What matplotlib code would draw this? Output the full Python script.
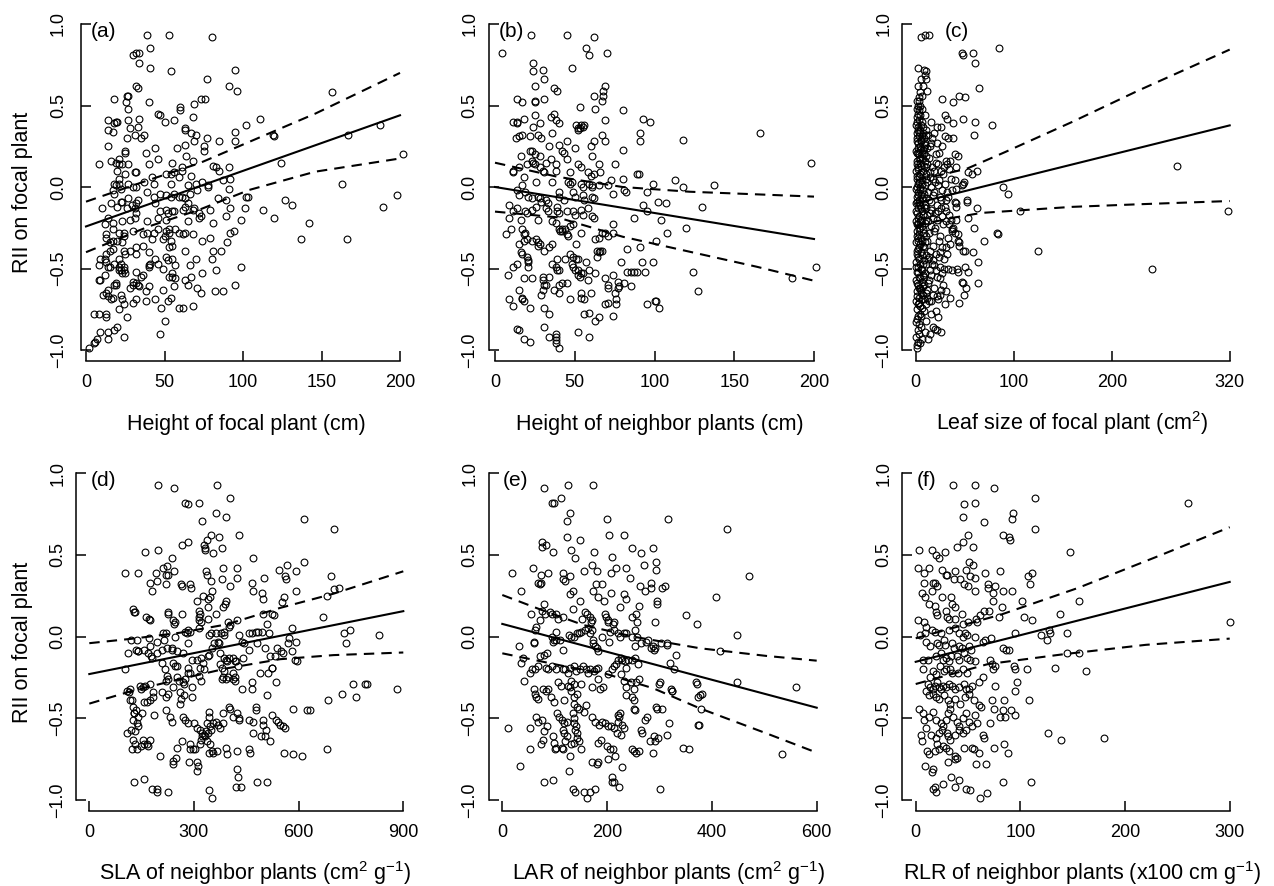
import matplotlib
matplotlib.use("Agg")
import matplotlib.pyplot as plt
from matplotlib.ticker import FuncFormatter

plt.rcParams['font.family'] = ['Liberation Sans', 'DejaVu Sans']
plt.rcParams['mathtext.fontset'] = 'custom'
plt.rcParams['mathtext.rm'] = 'Liberation Sans'
plt.rcParams['mathtext.it'] = 'Liberation Sans:italic'
plt.rcParams['mathtext.default'] = 'regular'

# ---------------- data ----------------
y_ticks = [-1.0, -0.5, 0.0, 0.5, 1.0]
y_label = "RII on focal plant"

a_ticks = [0, 50, 100, 150, 200]
b_ticks = [0, 50, 100, 150, 200]
c_ticks = [0, 100, 200, 320]
d_ticks = [0, 300, 600, 900]
e_ticks = [0, 200, 400, 600]
f_ticks = [0, 100, 200, 300]

a_xlabel = "Height of focal plant (cm)"
b_xlabel = "Height of neighbor plants (cm)"
c_xlabel = "Leaf size of focal plant (cm$^{2}$)"
d_xlabel = "SLA of neighbor plants (cm$^{2}$ g$^{-1}$)"
e_xlabel = "LAR of neighbor plants (cm$^{2}$ g$^{-1}$)"
f_xlabel = "RLR of neighbor plants (x100 cm g$^{-1}$)"

panel_tags = ["(a)", "(b)", "(c)", "(d)", "(e)", "(f)"]

# (x, RII) observations
a_pts = [(39,0.93),(53,0.93),(80,0.92),(41,0.85),(30,0.81),(32,0.82),(34,0.82),(34,0.76),(41,0.73),(54,0.71),(95,0.72),(77,0.66),(91,0.62),(96,0.59),(32,0.62),(33,0.61),(157,0.58),(18,0.54),(26,0.56),(27,0.56),(40,0.52),(25.5,0.52),(73,0.54),(76,0.54),(69,0.51),(60,0.49),(60,0.47),(27,0.48),(46,0.45),(47,0.44),(50,0.40),(56,0.41),(68,0.43),(14,0.41),(18,0.39),(19,0.40),(20,0.40),(111,0.42),(102,0.38),(187,0.38),(34,0.42),(27,0.41),(28,0.36),(14,0.35),(17,0.34),(33,0.37),(63,0.36),(63,0.35),(95,0.34),(37,0.32),(31,0.32),(67,0.33),(70,0.32),(120,0.31),(119,0.32),(167,0.32),(77,0.30),(26,0.30),(35,0.30),(69,0.28),(95,0.28),(85,0.28),(63,0.26),(75,0.25),(75,0.22),(14,0.25),(44,0.24),(58,0.24),(25,0.22),(25,0.21),(38,0.21),(64,0.19),(46,0.17),(16,0.16),(19,0.15),(21,0.17),(21,0.14),(68,0.16),(8,0.14),(23,0.14),(27,0.14),(40,0.14),(55,0.15),(202,0.20),(124,0.15),(81,0.13),(83,0.12),(85,0.10),(91,0.12),(31,0.09),(32,0.09),(25,0.08),(61,0.12),(61,0.10),(51,0.08),(54,0.08),(56,0.09),(20,0.10),(67,0.07),(59,0.06),(21,0.05),(21,0.02),(18,0.02),(19,0.01),(27,0.02),(43,0.02),(37,0.03),(54,0.02),(70,0.02),(74,0.03),(78,0.0),(92,0.05),(91,-0.01),(87,0.04),(10,-0.13),(17,-0.02),(18,-0.04),(22,-0.01),(22,-0.09),(30,0.0),(32,0.0),(39,-0.03),(47,-0.04),(51,-0.05),(56,-0.04),(59,-0.06),(61,-0.06),(63,-0.07),(66,-0.04),(84,-0.07),(89,-0.08),(102,-0.06),(103,-0.06),(127,-0.08),(131,-0.11),(198,-0.05),(189,-0.12),(163,0.02),(27,-0.07),(29,-0.11),(32,-0.10),(23,-0.09),(26,-0.13),(16,-0.10),(31,-0.13),(32,-0.16),(47,-0.15),(51,-0.14),(52,-0.16),(55,-0.15),(56,-0.15),(62,-0.14),(68,-0.14),(72,-0.19),(73,-0.18),(79,-0.14),(92,-0.13),(101,-0.13),(113,-0.14),(120,-0.19),(142,-0.22),(137,-0.32),(166,-0.32),(81,-0.22),(89,-0.18),(99,-0.20),(94,-0.27),(92,-0.28),(90,-0.34),(86,-0.39),(81,-0.39),(80,-0.44),(79,-0.31),(74,-0.33),(70,-0.44),(68,-0.29),(63,-0.28),(62,-0.29),(57,-0.26),(59,-0.28),(53,-0.26),(53,-0.28),(54,-0.33),(53,-0.37),(55,-0.36),(51,-0.27),(50,-0.30),(49,-0.32),(46,-0.26),(43,-0.28),(42,-0.32),(39,-0.28),(36,-0.29),(30,-0.27),(28,-0.20),(24,-0.28),(24,-0.30),(23,-0.34),(21,-0.28),(20,-0.33),(17,-0.33),(17,-0.22),(13,-0.29),(13,-0.31),(15,-0.34),(12,-0.23),(17,-0.26),(31,-0.19),(39,-0.21),(51,-0.20),(65,-0.21),(14,-0.19),(23,-0.21),(36,-0.36),(32,-0.41),(40,-0.40),(44,-0.44),(41,-0.47),(40,-0.48),(40,-0.49),(46,-0.47),(49,-0.50),(51,-0.43),(52,-0.45),(55,-0.44),(57,-0.48),(55,-0.53),(53,-0.55),(55,-0.55),(57,-0.56),(63,-0.39),(66,-0.48),(67,-0.55),(63,-0.57),(65,-0.60),(74,-0.53),(83,-0.51),(99,-0.49),(95,-0.60),(82,-0.64),(87,-0.64),(71,-0.62),(73,-0.65),(68,-0.73),(62,-0.74),(59,-0.74),(56,-0.61),(49,-0.63),(54,-0.68),(52,-0.70),(48,-0.74),(50,-0.82),(47,-0.90),(44,-0.69),(38,-0.64),(38,-0.70),(40,-0.61),(33,-0.60),(34,-0.61),(36,-0.54),(35,-0.55),(30,-0.58),(30,-0.60),(32,-0.59),(32,-0.52),(28,-0.62),(32,-0.69),(30,-0.71),(26,-0.80),(24,-0.92),(23,-0.69),(24,-0.72),(22,-0.66),(19,-0.59),(19,-0.60),(18,-0.60),(21,-0.75),(21,-0.44),(22,-0.47),(21,-0.49),(24,-0.49),(25,-0.53),(23,-0.53),(22,-0.51),(21,-0.51),(24,-0.51),(18,-0.47),(14,-0.49),(15,-0.49),(13,-0.46),(12,-0.44),(9,-0.44),(8,-0.48),(8,-0.57),(9,-0.57),(12,-0.54),(13,-0.65),(14,-0.67),(16,-0.69),(17,-0.68),(11,-0.66),(14,-0.63),(13,-0.78),(13,-0.80),(5,-0.78),(8,-0.78),(20,-0.86),(18,-0.88),(14,-0.89),(14,-0.93),(9,-0.89),(7,-0.93),(6,-0.95),(5,-0.96),(2,-0.99),(17,-0.38),(15,-0.39),(13,-0.41),(25,-0.41),(24,-0.39),(28,-0.39),(32,-0.37),(46,-0.19),(44,-0.10),(33,-0.08),(20,-0.12),(63,-0.12),(65,-0.10),(69,-0.13),(72,-0.16),(65,0.01),(71,-0.02),(78,0.01),(42,0.06),(54,-0.06),(43,-0.06)]

b_pts = [(4.6,0.82),(22.6,0.93),(45,0.93),(62,0.92),(57,0.85),(59,0.81),(70,0.82),(48,0.73),(24,0.76),(24,0.71),(30,0.72),(31,0.66),(25,0.62),(37,0.61),(39,0.59),(69,0.62),(68,0.59),(68,0.56),(67,0.53),(62,0.56),(14,0.54),(17,0.52),(25,0.53),(25,0.52),(31,0.54),(53,0.49),(63,0.48),(80,0.47),(25,0.44),(37,0.45),(35,0.43),(18,0.42),(11,0.40),(14,0.40),(14,0.39),(28,0.39),(38,0.41),(40,0.39),(69,0.41),(93,0.42),(97,0.40),(51,0.38),(52,0.36),(53,0.36),(54,0.38),(55,0.37),(56,0.38),(52,0.35),(24,0.37),(36,0.33),(91,0.33),(91,0.28),(67,0.32),(166,0.33),(118,0.29),(13,0.30),(15,0.31),(17,0.32),(22,0.31),(27,0.32),(29,0.30),(69,0.28),(62,0.28),(60,0.25),(40,0.26),(45,0.28),(34,0.25),(50,0.24),(80,0.23),(22,0.22),(23,0.22),(42,0.22),(43,0.21),(16,0.19),(25,0.20),(28,0.19),(35,0.17),(38,0.14),(45,0.17),(61,0.19),(20,0.14),(23,0.16),(24,0.15),(25,0.14),(52,0.14),(54,0.12),(65,0.14),(75,0.14),(198,0.15),(11,0.10),(11,0.09),(15,0.12),(28,0.12),(30,0.10),(31,0.09),(32,0.15),(38,0.10),(47,0.09),(58,0.09),(60,0.07),(62,0.08),(66,0.09),(89,0.08),(90,0.08),(113,0.04),(73,0.04),(80,0.05),(18,0.06),(26,0.03),(36,0.03),(46,0.03),(47,0.02),(48,0.03),(54,0.02),(55,0.0),(59,0.02),(61,0.01),(61,0.0),(65,0.01),(71,0.01),(74,-0.04),(81,-0.02),(82,-0.03),(99,0.02),(118,0.0),(137,0.01),(95,-0.03),(14,-0.02),(15,-0.05),(17,0.01),(19,-0.03),(21,-0.06),(23,-0.07),(27,-0.06),(28,-0.07),(29,-0.09),(32,-0.08),(33,-0.10),(40,-0.03),(40,-0.06),(43,-0.08),(49,-0.03),(50,-0.06),(55,-0.05),(56,-0.08),(61,-0.06),(62,-0.07),(102,-0.09),(107,-0.10),(93,-0.11),(95,-0.15),(130,-0.12),(9,-0.11),(11,-0.15),(14,-0.13),(19,-0.15),(20,-0.16),(23,-0.14),(26,-0.12),(32,-0.13),(33,-0.15),(39,-0.12),(39,-0.15),(40,-0.16),(45,-0.15),(49,-0.15),(50,-0.17),(54,-0.14),(55,-0.17),(58,-0.13),(61,-0.18),(62,-0.19),(87,-0.19),(104,-0.20),(120,-0.25),(9,-0.19),(16,-0.20),(17,-0.26),(18,-0.29),(19,-0.28),(27,-0.20),(7,-0.29),(10,-0.26),(36,-0.21),(38,-0.22),(40,-0.26),(41,-0.27),(42,-0.27),(42,-0.26),(44,-0.26),(47,-0.24),(49,-0.23),(46,-0.30),(45,-0.29),(54,-0.28),(51,-0.35),(63,-0.32),(65,-0.31),(67,-0.28),(69,-0.28),(71,-0.30),(74,-0.28),(74,-0.23),(101,-0.33),(108,-0.28),(83,-0.38),(91,-0.37),(64,-0.39),(65,-0.40),(64,-0.43),(66,-0.39),(67,-0.39),(18,-0.33),(20,-0.32),(23,-0.33),(26,-0.32),(27,-0.34),(28,-0.35),(27,-0.36),(31,-0.39),(34,-0.37),(36,-0.35),(15,-0.35),(16,-0.40),(17,-0.41),(20,-0.43),(21,-0.45),(21,-0.46),(21,-0.49),(14,-0.47),(11,-0.49),(8,-0.54),(18,-0.56),(23,-0.56),(15,-0.63),(17,-0.68),(17,-0.69),(18,-0.70),(9,-0.69),(11,-0.73),(22,-0.74),(14,-0.87),(15,-0.88),(18,-0.93),(22,-0.95),(30,-0.55),(30,-0.57),(34,-0.55),(30,-0.63),(31,-0.60),(29,-0.66),(32,-0.60),(37,-0.63),(40,-0.65),(40,-0.60),(42,-0.59),(36,-0.47),(38,-0.49),(39,-0.51),(40,-0.51),(39,-0.44),(44,-0.44),(47,-0.41),(49,-0.43),(48,-0.47),(49,-0.49),(50,-0.51),(51,-0.44),(52,-0.44),(52,-0.51),(54,-0.53),(52,-0.54),(53,-0.55),(55,-0.53),(57,-0.46),(59,-0.51),(63,-0.53),(58,-0.57),(45,-0.59),(47,-0.69),(54,-0.65),(54,-0.68),(56,-0.69),(60,-0.65),(69,-0.56),(71,-0.60),(71,-0.62),(74,-0.54),(77,-0.58),(78,-0.61),(77,-0.62),(75,-0.65),(76,-0.69),(76,-0.72),(79,-0.46),(83,-0.52),(85,-0.52),(87,-0.52),(89,-0.52),(81,-0.59),(85,-0.61),(92,-0.46),(94,-0.52),(99,-0.46),(95,-0.72),(100,-0.70),(101,-0.70),(103,-0.74),(124,-0.52),(127,-0.64),(201,-0.49),(186,-0.56),(69,-0.72),(71,-0.71),(74,-0.79),(56,-0.78),(59,-0.77),(63,-0.82),(65,-0.80),(31,-0.74),(34,-0.78),(31,-0.86),(34,-0.92),(38,-0.90),(38,-0.92),(38,-0.94),(38,-0.96),(40,-0.99),(52,-0.89),(59,-0.92)]

c_pts = [(5,0.92),(9,0.93),(14,0.93),(47,0.82),(48,0.81),(58,0.82),(60,0.76),(85,0.85),(2,0.73),(8,0.72),(10,0.71),(11,0.66),(64,0.61),(2,0.62),(7,0.62),(12,0.59),(4,0.58),(27,0.54),(44,0.56),(50,0.55),(38,0.52),(1,0.53),(3,0.53),(4,0.50),(1,0.48),(3,0.47),(48,0.42),(60,0.40),(78,0.38),(59,0.32),(30,0.44),(32,0.42),(26,0.37),(38,0.39),(16,0.40),(22,0.37),(1,0.43),(3,0.41),(6,0.40),(2,0.37),(4,0.35),(7,0.33),(10,0.32),(13,0.32),(1,0.33),(6,0.31),(30,0.31),(38,0.30),(17,0.30),(22,0.27),(15,0.25),(24,0.21),(1,0.28),(4,0.25),(9,0.26),(7,0.23),(2,0.21),(4,0.18),(11,0.19),(40,0.20),(43,0.19),(31,0.16),(32,0.14),(41,0.12),(12,0.14),(17,0.12),(21,0.15),(23,0.14),(15,0.09),(19,0.10),(53,0.09),(57,0.08),(62,0.10),(34,0.11),(36,0.05),(40,0.04),(48,0.02),(49,0.03),(47,0.01),(20,0.03),(23,0.01),(30,0.02),(27,-0.02),(32,-0.03),(37,-0.02),(41,-0.01),(25,-0.06),(31,-0.08),(40,-0.09),(41,-0.10),(89,0.0),(94,-0.04),(52,-0.08),(52,-0.09),(62,-0.13),(106,-0.15),(41,-0.12),(41,-0.20),(53,-0.19),(16,-0.09),(22,-0.11),(26,-0.13),(16,-0.14),(20,-0.16),(27,-0.18),(22,-0.20),(34,-0.17),(31,-0.21),(34,-0.23),(38,-0.25),(37,-0.26),(59,-0.25),(37,-0.27),(40,-0.28),(43,-0.29),(44,-0.34),(44,-0.36),(43,-0.33),(48,-0.39),(50,-0.39),(58,-0.40),(70,-0.33),(83,-0.28),(84,-0.29),(125,-0.39),(31,-0.37),(32,-0.41),(35,-0.35),(33,-0.50),(37,-0.51),(42,-0.50),(43,-0.52),(50,-0.49),(53,-0.52),(63,-0.46),(63,-0.59),(47,-0.58),(48,-0.59),(51,-0.62),(49,-0.66),(44,-0.71),(35,-0.68),(30,-0.72),(25,-0.66),(26,-0.63),(19,-0.62),(22,-0.67),(23,-0.69),(241,-0.50),(266,0.13),(318,-0.145),(19,-0.48),(21,-0.51),(25,-0.49),(27,-0.53),(29,-0.50),(22,-0.55),(25,-0.56),(14,-0.43),(18,-0.45),(11,-0.47),(15,-0.51),(8,-0.55),(13,-0.59),(7,-0.61),(5,-0.63),(10,-0.65),(12,-0.68),(14,-0.70),(16,-0.70),(11,-0.72),(8,-0.76),(5,-0.79),(10,-0.82),(18,-0.86),(20,-0.87),(22,-0.88),(26,-0.89),(15,-0.90),(9,-0.89),(6,-0.93),(13,-0.93),(2,-0.95),(4,-0.96),(1,-0.99),
         (0.5,-0.92),(2,-0.88),(3,-0.84),(1,-0.81),(4,-0.78),(6,-0.74),(2,-0.72),(0.5,-0.70),(3,-0.68),(7,-0.66),(1,-0.64),(4,-0.62),(2,-0.60),(6,-0.58),(0.5,-0.57),(3,-0.55),(9,-0.53),(1,-0.52),(5,-0.50),(2,-0.49),(7,-0.47),(0.5,-0.46),(3,-0.44),(10,-0.42),(1,-0.41),(5,-0.40),(2,-0.38),(8,-0.37),(4,-0.35),(0.5,-0.34),(6,-0.33),(2,-0.31),(11,-0.30),(3,-0.29),(1,-0.27),(7,-0.26),(4,-0.25),(2,-0.23),(9,-0.22),(0.5,-0.21),(5,-0.20),(3,-0.18),(12,-0.17),(1,-0.16),(6,-0.15),(2,-0.13),(8,-0.12),(4,-0.11),(0.5,-0.10),(3,-0.08),(10,-0.07),(1,-0.06),(5,-0.05),(2,-0.03),(7,-0.02),(0.5,-0.01),(4,0.0),(9,0.01),(2,0.02),(6,0.04),(1,0.05),(3,0.07),(11,0.08),(5,0.09),(0.5,0.10),(2,0.12),(8,0.13),(4,0.15),(1,0.16),(6,0.18),(3,0.20),(0.5,0.22),(2,0.24),(9,0.27),(5,0.29),(1,0.30),(3,0.34),(0.5,0.38),(2,0.45),(1,-0.75),(3,-0.71),(8,-0.69),(12,-0.63),(14,-0.57),(16,-0.54),(17,-0.47),(13,-0.44),(15,-0.39),(18,-0.36),(12,-0.33),(14,-0.28),(19,-0.27),(16,-0.24),(13,-0.21),(18,-0.19),(15,-0.16),(11,-0.13),(14,-0.08),(18,-0.05),(13,-0.03),(16,0.0),(12,0.03),(15,0.06),(18,0.05),(10,0.12),(14,0.18),(8,0.21),(12,0.24),(16,0.27),(11,0.35),(7,0.37),(9,0.44),(6,0.48),(24,-0.33),(27,-0.37),(21,-0.41),(24,-0.43),(28,-0.23),(25,-0.30),(30,-0.12),(33,-0.06),(28,0.08),(26,0.10),(35,0.16),
         (1,-0.97),(3,-0.90),(5,-0.86),(0.5,-0.83),(2,-0.79),(4,-0.73),(6,-0.69),(1,-0.67),(5,-0.65),(3,-0.62),(8,-0.60),(1,-0.59),(4,-0.56),(7,-0.54),(2,-0.52),(6,-0.51),(0.5,-0.49),(4,-0.47),(8,-0.45),(2,-0.43),(6,-0.42),(1,-0.39),(3,-0.37),(7,-0.36),(9,-0.34),(2,-0.33),(5,-0.31),(1,-0.30),(8,-0.28),(3,-0.26),(6,-0.24),(1,-0.23),(4,-0.21),(10,-0.20),(2,-0.19),(7,-0.17),(0.5,-0.15),(5,-0.13),(9,-0.11),(3,-0.10),(1,-0.09),(6,-0.07),(2,-0.05),(8,-0.04),(4,-0.02),(1,0.0),(6,0.02),(3,0.03),(10,0.05),(1,0.07),(4,0.08),(7,0.10),(2,0.11),(5,0.13),(1,0.14),(9,0.16),(3,0.17),(6,0.20),(1,0.21),(4,0.23),(8,0.24),(2,0.27),(5,0.28),(3,0.31),(8,0.30),(2,0.35),(5,0.38),(1,0.40),(4,0.44),(2,0.50),(3,0.55),(6,0.56),(5,0.66),(9,0.69),
         (20,-0.25),(23,-0.15),(26,-0.08),(19,-0.03),(24,0.04),(29,0.12),(21,0.20),(27,0.25),(33,0.30),(19,0.33),(25,-0.40),(29,-0.44),(33,-0.31),(36,-0.20),(31,-0.15),(28,-0.60),(31,-0.64),(18,-0.66),(21,-0.76),(23,-0.80),(16,-0.78)]

d_pts = [(198,0.93),(244,0.91),(365,0.93),(403,0.85),(274,0.82),(282,0.81),(315,0.82),(363,0.76),(392,0.73),(323,0.71),(615,0.72),(702,0.66),(430,0.62),(349,0.62),(373,0.61),(336,0.59),(284,0.58),(266,0.56),(329,0.56),(331,0.54),(332,0.53),(354,0.51),(381,0.54),(161,0.52),(196,0.53),(470,0.48),(237,0.48),(615,0.46),(224,0.43),(212,0.42),(102,0.39),(139,0.39),(191,0.39),(244,0.40),(220,0.38),(226,0.38),(334,0.40),(336,0.38),(383,0.42),(423,0.42),(543,0.41),(566,0.44),(592,0.40),(692,0.37),(562,0.37),(502,0.36),(424,0.36),(380,0.35),(173,0.33),(195,0.34),(219,0.32),(180,0.28),(263,0.32),(266,0.31),(289,0.32),(292,0.30),(348,0.34),(403,0.31),(466,0.33),(717,0.30),(700,0.29),(564,0.35),(592,0.28),(468,0.28),(496,0.27),(327,0.25),(352,0.28),(347,0.24),(339,0.23),(559,0.24),(552,0.21),(682,0.25),(499,0.23),(384,0.18),(388,0.20),(392,0.22),(310,0.22),(341,0.18),(671,0.12),(124,0.17),(129,0.15),(132,0.15),(162,0.12),(171,0.11),(174,0.10),(225,0.15),(227,0.14),(265,0.14),(315,0.16),(317,0.14),(315,0.12),(314,0.10),(319,0.09),(364,0.14),(340,0.11),(497,0.14),(508,0.08),(524,0.14),(529,0.13),(424,0.10),(397,0.09),(402,0.07),(241,0.10),(246,0.09),(243,0.08),(284,0.04),(288,0.03),(212,0.02),(219,0.02),(245,0.0),(275,0.03),(279,0.02),(282,-0.04),(314,0.05),(342,0.01),(349,0.02),(362,0.02),(378,0.02),(386,0.03),(387,0.01),(399,0.06),(430,0.01),(457,0.02),(467,0.02),(477,0.03),(484,0.03),(495,0.03),(516,0.02),(582,0.05),(571,-0.01),(592,-0.03),(729,0.02),(747,0.04),(737,-0.04),(831,0.01),(119,-0.02),(138,-0.02),(140,-0.09),(134,-0.08),(174,-0.06),(170,-0.01),(177,-0.12),(102,-0.20),(117,-0.32),(115,-0.34),(121,-0.39),(144,-0.30),(148,-0.32),(153,-0.31),(160,-0.30),(173,-0.29),(180,-0.13),(167,-0.10),(193,-0.10),(193,-0.03),(209,-0.08),(214,-0.02),(222,-0.07),(236,-0.07),(238,-0.08),(250,-0.09),(268,-0.10),(246,-0.18),(250,-0.18),(241,-0.16),(209,-0.16),(217,-0.20),(222,-0.24),(225,-0.26),(220,-0.27),(251,-0.25),(258,-0.27),(268,-0.28),(271,-0.29),(273,-0.26),(282,-0.19),(284,-0.22),(288,-0.22),(295,-0.14),(310,-0.14),(320,-0.13),(327,-0.16),(339,-0.12),(344,-0.11),(352,-0.07),(357,-0.04),(370,-0.03),(372,-0.04),(376,-0.10),(386,-0.13),(391,-0.14),(394,-0.15),(399,-0.13),(413,-0.13),(418,-0.15),(425,-0.18),(421,-0.15),(441,-0.13),(375,-0.17),(381,-0.19),(386,-0.21),(413,-0.22),(419,-0.25),(329,-0.20),(317,-0.19),(315,-0.24),(320,-0.27),(295,-0.31),(295,-0.37),(260,-0.34),(271,-0.36),(264,-0.38),(260,-0.41),(241,-0.31),(225,-0.35),(220,-0.37),(209,-0.34),(183,-0.34),(182,-0.37),(174,-0.39),(164,-0.40),(157,-0.40),(133,-0.45),(128,-0.47),(139,-0.49),(150,-0.47),(185,-0.48),(219,-0.45),(231,-0.49),(236,-0.52),(268,-0.49),(275,-0.51),(282,-0.53),(301,-0.53),(308,-0.56),(317,-0.57),(324,-0.59),(329,-0.60),(334,-0.58),(341,-0.59),(348,-0.57),(346,-0.55),(336,-0.53),(355,-0.53),(362,-0.52),(370,-0.54),(376,-0.56),(382,-0.53),(344,-0.46),(344,-0.49),(382,-0.47),(399,-0.43),(403,-0.44),(413,-0.49),(422,-0.47),(430,-0.50),(430,-0.51),(459,-0.51),(470,-0.52),(477,-0.43),(478,-0.45),(497,-0.51),(499,-0.54),(506,-0.57),(523,-0.48),(535,-0.51),(542,-0.52),(548,-0.54),(556,-0.55),(561,-0.56),(508,-0.36),(489,-0.22),(513,-0.22),(525,-0.19),(534,-0.28),(465,-0.28),(467,-0.32),(437,-0.32),(381,-0.26),(393,-0.26),(383,-0.25),(397,-0.25),(413,-0.26),(419,-0.27),(585,-0.44),(623,-0.45),(634,-0.45),(684,-0.39),(723,-0.35),(755,-0.29),(765,-0.37),(790,-0.29),(795,-0.29),(881,-0.32),(570,-0.04),(582,-0.09),(589,-0.14),(594,-0.15),(539,-0.07),(549,-0.09),(554,-0.10),(533,-0.12),(524,-0.19),(505,-0.07),(518,-0.12),(459,-0.08),(482,-0.04),(438,-0.03),(443,-0.04),
         (111,-0.10),(107,-0.33),(118,-0.39),(126,-0.43),(128,-0.47),(124,-0.51),(119,-0.57),(107,-0.59),(124,-0.63),(131,-0.66),(121,-0.69),(138,-0.69),(147,-0.67),(157,-0.66),(153,-0.63),(140,-0.55),(138,-0.53),(132,-0.58),(164,-0.66),(168,-0.67),(174,-0.63),(204,-0.73),(241,-0.76),(239,-0.78),(248,-0.74),(252,-0.68),(265,-0.64),(289,-0.69),(290,-0.66),(287,-0.77),(310,-0.77),(312,-0.79),(308,-0.82),(298,-0.69),(303,-0.69),(317,-0.66),(319,-0.63),(322,-0.61),(333,-0.61),(338,-0.64),(346,-0.66),(353,-0.70),(354,-0.71),(342,-0.71),(367,-0.70),(392,-0.68),(394,-0.72),(422,-0.70),(424,-0.81),(425,-0.86),(434,-0.92),(420,-0.92),(459,-0.69),(460,-0.71),(468,-0.59),(493,-0.61),(503,-0.61),(518,-0.64),(558,-0.71),(585,-0.72),(610,-0.73),(680,-0.69),(128,-0.89),(157,-0.87),(179,-0.93),(195,-0.93),(195,-0.95),(226,-0.95),(342,-0.94),(352,-0.99),(482,-0.89),(508,-0.89),(139,-0.09),(157,-0.08)]

e_pts = [(80,0.91),(125,0.93),(174,0.93),(112,0.85),(94,0.82),(99,0.82),(130,0.76),(123,0.71),(199,0.72),(316,0.72),(429,0.66),(123,0.61),(204,0.62),(232,0.62),(149,0.59),(76,0.58),(76,0.55),(83,0.56),(96,0.52),(131,0.53),(175,0.52),(248,0.54),(264,0.51),(287,0.54),(139,0.48),(209,0.49),(293,0.46),(270,0.44),(172,0.44),(59,0.42),(217,0.42),(237,0.42),(294,0.41),(18,0.39),(87,0.39),(116,0.39),(155,0.40),(180,0.40),(207,0.39),(470,0.37),(73,0.38),(74,0.33),(69,0.33),(72,0.32),(130,0.37),(120,0.34),(115,0.35),(244,0.36),(284,0.33),(283,0.30),(311,0.31),(304,0.30),(36,0.28),(134,0.28),(130,0.26),(174,0.28),(183,0.24),(194,0.22),(178,0.32),(190,0.32),(233,0.26),(237,0.23),(208,0.27),(263,0.31),(272,0.28),(296,0.22),(296,0.20),(407,0.24),(148,0.22),(79,0.20),(134,0.17),(225,0.18),(261,0.19),(55,0.14),(75,0.16),(81,0.14),(91,0.15),(94,0.14),(102,0.14),(106,0.11),(115,0.12),(158,0.15),(162,0.14),(167,0.12),(169,0.09),(153,0.11),(172,0.10),(196,0.14),(198,0.12),(202,0.10),(201,0.09),(211,0.08),(214,0.09),(247,0.12),(256,0.14),(258,0.09),(291,0.09),(351,0.13),(372,0.08),(447,0.01),(72,0.10),(62,0.04),(65,0.06),(60,-0.03),(61,-0.04),(94,0.0),(99,-0.02),(102,0.03),(97,-0.03),(102,-0.02),(110,-0.02),(116,-0.08),(127,0.01),(131,0.0),(136,0.0),(143,0.02),(147,0.02),(151,0.03),(157,0.04),(164,0.05),(167,0.02),(171,0.04),(174,-0.02),(173,-0.04),(177,-0.06),(181,-0.07),(183,-0.09),(190,0.0),(204,-0.03),(206,0.03),(214,0.04),(221,0.02),(225,0.0),(232,0.02),(236,0.02),(247,0.0),(253,0.04),(257,0.0),(253,-0.06),(265,-0.04),(274,-0.03),(279,-0.02),(283,-0.07),(288,-0.06),(291,-0.07),(290,-0.08),(302,-0.04),(314,-0.04),(315,-0.05),(320,-0.16),(331,-0.11),(328,-0.20),(415,-0.09),(31,-0.06),(39,-0.13),(35,-0.16),(42,-0.27),(53,-0.22),(56,-0.20),(62,-0.20),(69,-0.18),(72,-0.12),(80,-0.11),(85,-0.10),(84,-0.19),(88,-0.20),(94,-0.18),(102,-0.20),(115,-0.20),(120,-0.20),(126,-0.22),(129,-0.19),(137,-0.18),(140,-0.21),(148,-0.20),(154,-0.18),(159,-0.20),(163,-0.22),(167,-0.20),(175,-0.21),(178,-0.20),(183,-0.19),(132,-0.27),(136,-0.29),(151,-0.29),(171,-0.31),(183,-0.26),(186,-0.32),(193,-0.31),(201,-0.23),(209,-0.20),(214,-0.18),(217,-0.17),(221,-0.14),(226,-0.13),(229,-0.14),(234,-0.15),(237,-0.19),(240,-0.14),(248,-0.14),(254,-0.13),(259,-0.17),(226,-0.23),(233,-0.27),(237,-0.31),(246,-0.28),(251,-0.32),(255,-0.28),(260,-0.26),(237,-0.36),(247,-0.37),(252,-0.39),(251,-0.44),(253,-0.45),(300,-0.28),(322,-0.32),(323,-0.33),(369,-0.28),(371,-0.29),(374,-0.37),(378,-0.36),(382,-0.35),(380,-0.44),(374,-0.54),(447,-0.28),(560,-0.31),(60,-0.32),(64,-0.37),(69,-0.38),(62,-0.35),(78,-0.32),(83,-0.33),(87,-0.32),(93,-0.37),(99,-0.40),(112,-0.30),(106,-0.28),(126,-0.30),(130,-0.31),(132,-0.33),(143,-0.35),(117,-0.39),(136,-0.37),(136,-0.41),(143,-0.43),(147,-0.44),(155,-0.46),(160,-0.42),(65,-0.49),(68,-0.52),(76,-0.51),(80,-0.58),(85,-0.55),(11,-0.56),(53,-0.56),(34,-0.79),(53,-0.69),(74,-0.66),(78,-0.63),(97,-0.61),(98,-0.65),(101,-0.69),(103,-0.68),(105,-0.47),(108,-0.49),(113,-0.51),(118,-0.53),(123,-0.52),(116,-0.57),(117,-0.59),(120,-0.64),(114,-0.68),(116,-0.69),(135,-0.47),(137,-0.50),(137,-0.53),(140,-0.55),(139,-0.57),(143,-0.59),(124,-0.61),(132,-0.66),(137,-0.65),(143,-0.62),(146,-0.64),(151,-0.69),(130,-0.73),(171,-0.77),(183,-0.65),(183,-0.77),(181,-0.78),(128,-0.82),(79,-0.89),(97,-0.88),(134,-0.93),(138,-0.95),(155,-0.95),(161,-0.99),(167,-0.95),(177,-0.93),(171,-0.49),(177,-0.52),(185,-0.54),(191,-0.52),(196,-0.53),(202,-0.55),(208,-0.55),(214,-0.56),(218,-0.59),(226,-0.60),(232,-0.56),(220,-0.52),(223,-0.49),(225,-0.47),(221,-0.48),(228,-0.54),(188,-0.63),(199,-0.67),(205,-0.69),(212,-0.69),(215,-0.73),(201,-0.75),(210,-0.86),(213,-0.89),(223,-0.92),(228,-0.80),(209,-0.89),(247,-0.69),(252,-0.70),(256,-0.71),(260,-0.70),(264,-0.57),(272,-0.51),(277,-0.49),(266,-0.59),(281,-0.64),(288,-0.71),(290,-0.61),(291,-0.64),(296,-0.44),(293,-0.43),(304,-0.44),(298,-0.62),(300,-0.93),(299,-0.29),(319,-0.53),(315,-0.60),(324,-0.33),(534,-0.72),(344,-0.68),(356,-0.69),(376,-0.54)]

f_pts = [(36,0.93),(57,0.93),(75,0.91),(46,0.81),(57,0.82),(114,0.85),(260,0.82),(45,0.73),(65,0.70),(93,0.76),(92,0.72),(114,0.66),(83,0.62),(89,0.61),(90,0.59),(50,0.62),(45,0.58),(39,0.55),(55,0.55),(147,0.52),(3,0.53),(16,0.53),(19,0.50),(22,0.48),(28,0.52),(51,0.46),(55,0.44),(2,0.42),(13,0.42),(8,0.39),(25,0.41),(29,0.38),(30,0.38),(38,0.40),(48,0.41),(81,0.40),(66,0.39),(111,0.39),(107,0.37),(52,0.37),(57,0.36),(37,0.35),(42,0.35),(8,0.33),(17,0.33),(18,0.33),(20,0.31),(46,0.32),(50,0.31),(69,0.32),(69,0.30),(76,0.31),(109,0.32),(16,0.28),(6,0.27),(9,0.24),(25,0.24),(34,0.24),(57,0.28),(74,0.27),(83,0.28),(92,0.28),(156,0.22),(102,0.22),(74,0.22),(82,0.18),(13,0.20),(18,0.19),(35,0.20),(38,0.18),(44,0.14),(58,0.11),(61,0.13),(65,0.16),(70,0.16),(80,0.12),(103,0.12),(111,0.10),(138,0.14),(300,0.09),(2,0.10),(8,0.09),(10,0.06),(19,0.15),(20,0.13),(29,0.16),(30,0.12),(32,0.11),(38,0.11),(45,0.08),(50,0.09),(59,0.09),(9,0.02),(4,0.01),(16,0.04),(18,0.03),(24,0.02),(32,0.04),(38,0.05),(41,0.02),(45,0.0),(47,0.02),(49,0.01),(57,0.0),(64,-0.03),(66,-0.02),(72,-0.01),(95,0.02),(120,0.01),(127,0.04),(128,0.02),(125,-0.02),(145,0.02),(10,-0.03),(14,-0.06),(20,-0.04),(22,-0.05),(27,-0.02),(28,-0.05),(35,-0.04),(37,-0.07),(41,-0.06),(44,-0.07),(51,-0.06),(53,-0.08),(83,-0.07),(86,-0.08),(89,-0.08),(145,-0.10),(156,-0.10),(7,-0.14),(12,-0.14),(19,-0.12),(24,-0.10),(26,-0.14),(29,-0.13),(32,-0.15),(34,-0.12),(39,-0.12),(41,-0.14),(46,-0.10),(49,-0.13),(52,-0.14),(57,-0.15),(71,-0.14),(73,-0.17),(74,-0.20),(76,-0.18),(94,-0.18),(95,-0.20),(106,-0.20),(133,-0.19),(163,-0.21),(7,-0.20),(14,-0.25),(17,-0.21),(19,-0.23),(23,-0.18),(27,-0.21),(29,-0.20),(33,-0.20),(35,-0.22),(40,-0.22),(45,-0.20),(49,-0.22),(60,-0.28),(64,-0.25),(76,-0.30),(95,-0.33),(97,-0.28),(12,-0.29),(14,-0.31),(17,-0.32),(18,-0.30),(20,-0.28),(22,-0.31),(24,-0.32),(26,-0.30),(29,-0.31),(32,-0.29),(35,-0.30),(38,-0.32),(41,-0.31),(46,-0.29),(48,-0.32),(51,-0.32),(54,-0.30),(10,-0.33),(13,-0.36),(17,-0.35),(19,-0.37),(22,-0.38),(27,-0.36),(31,-0.39),(33,-0.41),(38,-0.38),(42,-0.41),(47,-0.37),(51,-0.35),(56,-0.39),(60,-0.42),(73,-0.39),(75,-0.44),(84,-0.39),(108,-0.39),(83,-0.45),(91,-0.45),(95,-0.48),(81,-0.49),(85,-0.49),(3,-0.44),(7,-0.47),(8,-0.51),(13,-0.49),(17,-0.46),(19,-0.51),(24,-0.53),(26,-0.55),(29,-0.51),(31,-0.47),(33,-0.44),(36,-0.49),(39,-0.52),(41,-0.55),(45,-0.50),(48,-0.47),(51,-0.52),(54,-0.55),(57,-0.48),(59,-0.53),(62,-0.43),(71,-0.53),(5,-0.60),(6,-0.64),(10,-0.56),(15,-0.60),(19,-0.62),(22,-0.59),(25,-0.57),(30,-0.59),(31,-0.61),(33,-0.63),(38,-0.60),(41,-0.57),(45,-0.59),(48,-0.57),(64,-0.60),(65,-0.62),(9,-0.79),(11,-0.70),(13,-0.72),(18,-0.70),(20,-0.66),(22,-0.69),(26,-0.67),(29,-0.68),(32,-0.70),(38,-0.73),(46,-0.68),(54,-0.68),(56,-0.69),(60,-0.71),(58,-0.78),(67,-0.78),(75,-0.68),(84,-0.66),(88,-0.71),(126,-0.59),(139,-0.63),(180,-0.62),(17,-0.81),(16,-0.83),(38,-0.75),(39,-0.74),(31,-0.77),(17,-0.93),(18,-0.92),(19,-0.95),(26,-0.90),(34,-0.86),(41,-0.88),(38,-0.92),(48,-0.93),(52,-0.94),(61,-0.99),(68,-0.96),(83,-0.89),(110,-0.89)]

# fitted regression lines (end points) and 95% confidence bands
a_fit = ([0, 200], [-0.242, 0.44])
a_hi = ([0, 40, 72, 104, 146, 200], [-0.09, 0.043, 0.145, 0.277, 0.45, 0.70])
a_lo = ([0, 40, 72, 104, 146, 200], [-0.40, -0.242, -0.14, -0.018, 0.094, 0.175])

b_fit = ([0, 200], [0.0, -0.319])
b_hi = ([0, 39, 80, 122, 164, 200], [0.149, 0.063, 0.0, -0.029, -0.045, -0.059])
b_lo = ([0, 39, 80, 122, 164, 200], [-0.151, -0.186, -0.305, -0.397, -0.489, -0.575])

c_fit = ([0, 320], [-0.10, 0.378])
c_hi = ([0, 16, 52, 91, 159, 227, 320], [0.04, 0.061, 0.112, 0.214, 0.398, 0.592, 0.843])
c_lo = ([0, 33, 67, 159, 227, 320], [-0.24, -0.194, -0.159, -0.122, -0.106, -0.086])

d_fit = ([0, 900], [-0.229, 0.156])
d_hi = ([0, 126, 260, 394, 547, 700, 900], [-0.04, -0.012, 0.024, 0.075, 0.176, 0.263, 0.40])
d_lo = ([0, 126, 260, 394, 547, 700, 900], [-0.41, -0.33, -0.26, -0.194, -0.138, -0.113, -0.097])

e_fit = ([0, 600], [0.078, -0.435])
e_hi = ([0, 72, 155, 250, 377, 504, 600], [0.255, 0.167, 0.071, 0.0, -0.071, -0.118, -0.147])
e_lo = ([0, 123, 199, 288, 377, 504, 600], [-0.102, -0.184, -0.229, -0.316, -0.439, -0.592, -0.71])

f_fit = ([0, 300], [-0.154, 0.335])
f_hi = ([0, 82, 155, 231, 300], [-0.01, 0.136, 0.298, 0.491, 0.67])
f_lo = ([0, 69, 142, 220, 300], [-0.29, -0.168, -0.107, -0.05, -0.012])

# ---------------- layout (pixel geometry of each panel) ----------------
W, H = 1274, 886
fig = plt.figure(figsize=(W / 100, H / 100), dpi=100)

def pix_text(x, y, s, **kw):
    fig.text(x / W, 1 - y / H, s, **kw)

def make_panel(pts, ticks, fit, hi, lo, xlabel, tag, geo):
    spine_x, spine_y, x0px, x1px, y1px, ym1px, lab_cx, lab_base, ypad, tag_x = geo
    xt0, xt1 = ticks[0], ticks[-1]
    sx = (x1px - x0px) / (xt1 - xt0)
    sy = (ym1px - y1px) / 2.0
    top_px = y1px - 14
    right_px = x1px + 14
    xmin = xt0 - (x0px - spine_x) / sx
    xmax = xt1 + (right_px - x1px) / sx
    ymax = 1 + (y1px - top_px) / sy
    ymin = -1 - (spine_y - ym1px) / sy
    ax = fig.add_axes([spine_x / W, 1 - spine_y / H,
                       (right_px - spine_x) / W, (spine_y - top_px) / H])
    ax.set_xlim(xmin, xmax)
    ax.set_ylim(ymin, ymax)
    ax.patch.set_alpha(0)
    for s in ['top', 'right']:
        ax.spines[s].set_visible(False)
    ax.spines['left'].set_bounds(-1, 1)
    ax.spines['bottom'].set_bounds(xt0, xt1)
    for s in ['left', 'bottom']:
        ax.spines[s].set_linewidth(1.1)
    ax.set_xticks(ticks)
    ax.set_xticklabels([str(t) for t in ticks])
    ax.set_yticks(y_ticks)
    ax.yaxis.set_major_formatter(FuncFormatter(lambda v, p: f"{v:.1f}".replace('-', '\u2212')))
    ax.tick_params(direction='in', length=7.5, width=1.1, labelsize=13, color='black')
    ax.tick_params(axis='x', pad=9.5)
    ax.tick_params(axis='y', pad=ypad)
    for lab in ax.get_yticklabels():
        lab.set_rotation(90)
        lab.set_va('center')

    xs = [p[0] for p in pts]
    ys = [p[1] for p in pts]
    ax.plot(xs, ys, linestyle='none', marker='o', ms=4.9, mfc='none', mec='black',
            mew=0.8, clip_on=False, zorder=3)
    ax.plot(fit[0], fit[1], color='black', lw=1.5, zorder=4)
    for band in (hi, lo):
        ax.plot(band[0], band[1], color='black', lw=1.5, linestyle=(0, (5, 3.4)), zorder=4)

    pix_text(lab_cx, lab_base, xlabel, fontsize=15.5, ha='center', va='baseline')
    pix_text(tag_x, y1px - 2, tag, fontsize=15, ha='left', va='top')
    return ax

geo_a = (81, 361, 86, 400, 24, 350, 246, 430, 10.0, 91)
geo_b = (489, 361, 495, 814, 24, 350, 659.7, 430, 7.5, 499)
geo_c = (902, 361, 915.7, 1229.7, 24, 350, 1072.8, 430, 7.0, 945)
geo_d = (76, 810.7, 89.3, 403.3, 473.3, 800, 255, 879.7, 7.0, 91)
geo_e = (489.3, 810.7, 502.3, 816.7, 473.3, 800, 668.3, 879.7, 8.0, 503)
geo_f = (902.3, 810.7, 915.7, 1229.7, 473.3, 800, 1081.5, 879.7, 7.0, 917)

make_panel(a_pts, a_ticks, a_fit, a_hi, a_lo, a_xlabel, panel_tags[0], geo_a)
make_panel(b_pts, b_ticks, b_fit, b_hi, b_lo, b_xlabel, panel_tags[1], geo_b)
make_panel(c_pts, c_ticks, c_fit, c_hi, c_lo, c_xlabel, panel_tags[2], geo_c)
make_panel(d_pts, d_ticks, d_fit, d_hi, d_lo, d_xlabel, panel_tags[3], geo_d)
make_panel(e_pts, e_ticks, e_fit, e_hi, e_lo, e_xlabel, panel_tags[4], geo_e)
make_panel(f_pts, f_ticks, f_fit, f_hi, f_lo, f_xlabel, panel_tags[5], geo_f)

pix_text(23, 192, y_label, fontsize=15.5, rotation=90, ha='center', va='center')
pix_text(23, 642, y_label, fontsize=15.5, rotation=90, ha='center', va='center')

fig.savefig("out.png", dpi=100)
